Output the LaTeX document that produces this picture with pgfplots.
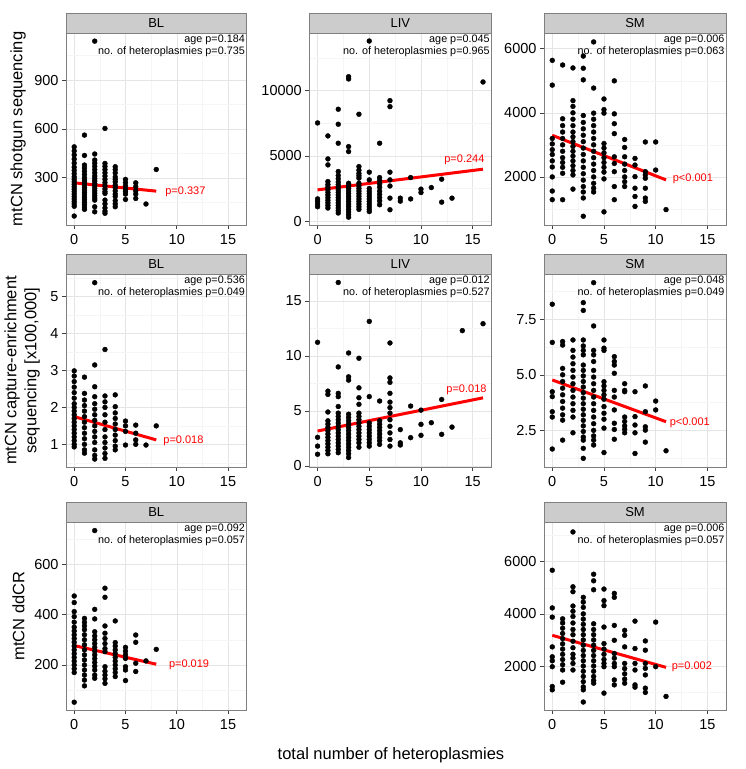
\documentclass[border=0pt]{standalone}
\usepackage{fontspec}
\setmainfont{Liberation Sans}
\usepackage{pgfplots}
\pgfplotsset{compat=1.18}
\definecolor{stripfill}{RGB}{204,204,204}
\definecolor{panelborder}{RGB}{127,127,127}
\definecolor{gmaj}{RGB}{229,229,229}
\definecolor{gmin}{RGB}{245,245,245}
\pgfplotsset{
 panel/.style={
  scale only axis, xmin=-0.8, xmax=16.8,
  xtick={0,5,10,15}, minor xtick={2.5,7.5,12.5},
  grid=both, major grid style={color=gmaj, line width=0.5pt}, minor grid style={color=gmin, line width=0.5pt},
  axis line style={panelborder, line width=0.6pt},
  tick align=outside, tick pos=left,
  major tick length=4pt, minor tick length=0pt,
  major tick style={black!75, line width=0.6pt},
  tick label style={font=\fontsize{14.5}{14.5}\selectfont, black},
  xticklabel style={yshift=-1.5pt},
  scaled y ticks=false,
  /pgf/number format/assume math mode=true,
  /pgf/number format/set thousands separator={},
 },
 dots/.style={only marks, mark=*, mark size=2.45pt, mark options={draw=black, fill=black}},
 fit/.style={red, line width=3pt, no marks},
}
\newcommand{\annot}[2]{\node[anchor=north east, align=right, inner sep=1.5pt, font=\fontsize{10.8}{12.6}\selectfont] at (rel axis cs:1,1) {age p=#1\\no. of heteroplasmies p=#2};}
\newcommand{\pval}[3]{\node[red, font=\fontsize{11}{13}\selectfont] at (axis cs:#1,#2) {#3};}
\newcommand{\strip}[2]{\draw[panelborder, line width=0.6pt, fill=stripfill] (#1.north west) rectangle ([yshift=20pt]#1.north east); \node[font=\fontsize{13}{13}\selectfont] at ([yshift=10pt]#1.north) {#2};}
\begin{document}
\begin{tikzpicture}
\path[use as bounding box] (0,0) rectangle (746pt,-769pt);
% ---------- Row 1 ----------
\begin{axis}[panel, name=p11, at={(66pt,-33pt)}, anchor=north west, width=180.5pt, height=192pt,
  ymin=10, ymax=1189, ytick={300,600,900}, minor ytick={150,450,750,1050}]
\addplot[dots] coordinates {
(0,490)(0,465)(0,440)(0,415)(0,390)(0,365)(0,345)(0,325)(0,305)(0,290)(0,275)(0,260)(0,245)(0,230)(0,215)(0,200)(0,185)(0,170)(0,155)(0,140)(0,125)(0,65)
(1,562)(1,437)(1,378)(1,360)(1,340)(1,320)(1,300)(1,285)(1,270)(1,255)(1,240)(1,225)(1,210)(1,195)(1,180)(1,165)(1,150)(1,135)(1,120)(1,106)
(2,1139)(2,446)(2,409)(2,390)(2,370)(2,350)(2,330)(2,310)(2,295)(2,280)(2,265)(2,250)(2,235)(2,220)(2,205)(2,190)(2,175)(2,163)(2,122)(2,91)
(3,603)(3,388)(3,370)(3,350)(3,330)(3,310)(3,290)(3,270)(3,250)(3,232)(3,215)(3,204)(3,163)(3,140)(3,115)(3,95)(3,82)
(4,368)(4,350)(4,330)(4,305)(4,290)(4,275)(4,255)(4,240)(4,220)(4,200)(4,185)(4,160)(4,140)(4,122)
(5,290)(5,270)(5,250)(5,230)(5,215)(5,200)(5,167)
(6,269)(6,245)(6,220)(6,200)(6,173)
(7,139)(8,351)};
\addplot[fit] coordinates {(0,269)(8,218)};
\pval{10.84}{214}{p=0.337}
\annot{0.184}{0.735}
\end{axis}
\strip{p11}{BL}

\begin{axis}[panel, name=p12, at={(309.3pt,-33pt)}, anchor=north west, width=182pt, height=192pt,
  ymin=-300, ymax=14420, ytick={0,5000,10000}, minor ytick={2500,7500,12500}]
\addplot[dots] coordinates {
(0,7526)(0,1700)(0,1500)(0,1300)(0,1100)
(1,6530)(1,4768)(1,4309)(1,3030)(1,2800)(1,2600)(1,2400)(1,2200)(1,2000)(1,1800)(1,1600)(1,1400)(1,1200)(1,1000)
(2,8575)(2,7426)(2,5970)(2,3800)(2,3500)(2,3250)(2,3000)(2,2800)(2,2600)(2,2400)(2,2200)(2,2000)(2,1800)(2,1600)(2,1400)(2,1200)(2,1000)(2,800)(2,620)
(3,11072)(3,10896)(3,5711)(3,5328)(3,2900)(3,2700)(3,2500)(3,2300)(3,2100)(3,1900)(3,1700)(3,1500)(3,1300)(3,1100)(3,900)(3,700)(3,500)(3,300)
(4,8192)(4,4178)(4,3900)(4,3650)(4,3470)(4,3290)(4,2900)(4,2700)(4,2500)(4,2300)(4,2100)(4,1900)(4,1700)(4,1500)(4,1300)(4,1100)(4,900)
(5,13806)(5,3750)(5,3160)(5,2500)(5,2300)(5,2100)(5,1900)(5,1700)(5,1500)(5,1300)(5,1100)(5,900)(5,730)
(6,5970)(6,3336)(6,3100)(6,2850)(6,2600)(6,2300)(6,2050)(6,1800)(6,1550)(6,1250)
(7,9234)(7,8775)(7,3750)(7,3160)(7,2690)(7,1760)(7,870)
(8,1760)(8,1530)(9,3336)(9,1700)(10,2450)(10,2190)(11,2570)(12,3213)(12,1452)(13,1758)(16,10666)};
\addplot[fit] coordinates {(0,2394)(16,3980)};
\pval{14.2}{4700}{p=0.244}
\annot{0.045}{0.965}
\end{axis}
\strip{p12}{LIV}

\begin{axis}[panel, name=p13, at={(544pt,-33pt)}, anchor=north west, width=182pt, height=192pt,
  ymin=500, ymax=6490, ytick={2000,4000,6000}, minor ytick={1000,3000,5000}]
\addplot[dots] coordinates {
(0,5637)(0,4864)(0,3200)(0,3030)(0,2850)(0,2700)(0,2500)(0,2310)(0,2000)(0,1560)(0,1290)
(1,5492)(1,3814)(1,3600)(1,3400)(1,3200)(1,3000)(1,2800)(1,2600)(1,2450)(1,2300)(1,2114)(1,1289)
(2,5400)(2,4380)(2,4200)(2,4000)(2,3800)(2,3600)(2,3400)(2,3250)(2,3100)(2,2950)(2,2800)(2,2650)(2,2500)(2,2350)(2,2200)(2,2062)(2,1620)
(3,5770)(3,5390)(3,5028)(3,3916)(3,3700)(3,3500)(3,3300)(3,3100)(3,2900)(3,2700)(3,2500)(3,2300)(3,2100)(3,1900)(3,1700)(3,1530)(3,1342)(3,773)
(4,6212)(4,4772)(4,3990)(4,3800)(4,3600)(4,3400)(4,3200)(4,3000)(4,2800)(4,2600)(4,2400)(4,2200)(4,2000)(4,1800)(4,1650)(4,1530)
(5,4432)(5,4100)(5,3990)(5,3041)(5,2900)(5,2750)(5,2600)(5,2450)(5,2300)(5,2150)(5,1938)(5,909)
(6,4997)(6,3968)(6,3660)(6,3350)(6,2627)(6,2420)(6,2164)(6,1700)(6,1289)
(7,3168)(7,2920)(7,2628)(7,2400)(7,2200)(7,2000)(7,1850)(7,1700)
(8,2577)(8,2370)(8,2010)(8,1648)(8,1390)(8,1080)
(9,3090)(9,2164)(9,2060)(9,1958)(9,1648)(9,1340)(9,1236)
(10,3090)(10,2215)(11,980)};
\addplot[fit] coordinates {(0,3298)(11,1907)};
\pval{13.6}{1938}{p<0.001}
\annot{0.006}{0.063}
\end{axis}
\strip{p13}{SM}

% ---------- Row 2 ----------
\begin{axis}[panel, name=p21, at={(66pt,-274pt)}, anchor=north west, width=180.5pt, height=193pt,
  ymin=0.385, ymax=5.615, ytick={1,2,3,4,5}, minor ytick={0.5,1.5,2.5,3.5,4.5,5.5}]
\addplot[dots] coordinates {
(0,2.99)(0,2.85)(0,2.7)(0,2.55)(0,2.4)(0,2.25)(0,2.1)(0,2.0)(0,1.9)(0,1.8)(0,1.7)(0,1.6)(0,1.5)(0,1.4)(0,1.3)(0,1.2)(0,1.1)(0,1.0)(0,0.93)
(1,2.82)(1,2.38)(1,2.2)(1,2.05)(1,1.9)(1,1.75)(1,1.6)(1,1.45)(1,1.3)(1,1.15)(1,1.0)(1,0.85)(1,0.76)
(2,5.38)(2,3.15)(2,2.56)(2,2.29)(2,2.1)(2,1.95)(2,1.8)(2,1.65)(2,1.5)(2,1.35)(2,1.2)(2,1.05)(2,0.85)(2,0.7)(2,0.6)
(3,3.57)(3,2.31)(3,2.15)(3,2.0)(3,1.8)(3,1.6)(3,1.4)(3,1.2)(3,1.05)(3,0.9)(3,0.75)(3,0.62)
(4,2.34)(4,2.02)(4,1.85)(4,1.7)(4,1.55)(4,1.4)(4,1.25)(4,1.1)(4,0.95)(4,0.85)
(5,1.63)(5,1.5)(5,1.35)(5,0.98)
(6,1.52)(6,1.3)(6,1.12)(6,1.0)
(7,0.98)(8,1.5)};
\addplot[fit] coordinates {(0,1.75)(8,1.12)};
\pval{10.65}{1.09}{p=0.018}
\annot{0.536}{0.049}
\end{axis}
\strip{p21}{BL}

\begin{axis}[panel, name=p22, at={(309.3pt,-274pt)}, anchor=north west, width=182pt, height=193pt,
  ymin=-0.1, ymax=17.45, ytick={0,5,10,15}, minor ytick={2.5,7.5,12.5}]
\addplot[dots] coordinates {
(0,11.24)(0,2.6)(0,1.8)(0,1.06)
(1,6.8)(1,6.5)(1,4.9)(1,4.1)(1,3.8)(1,3.5)(1,3.2)(1,2.9)(1,2.6)(1,2.3)(1,2.0)(1,1.7)(1,1.4)(1,1.1)
(2,16.68)(2,9.0)(2,6.6)(2,6.3)(2,5.4)(2,4.8)(2,4.5)(2,4.2)(2,3.9)(2,3.6)(2,3.3)(2,3.0)(2,2.7)(2,2.4)(2,2.1)(2,1.8)(2,1.5)(2,1.2)
(3,10.27)(3,8.1)(3,7.8)(3,4.7)(3,4.4)(3,4.1)(3,3.8)(3,3.5)(3,3.2)(3,2.9)(3,2.6)(3,2.3)(3,2.0)(3,1.7)(3,1.4)(3,1.1)(3,0.76)
(4,9.79)(4,7.1)(4,6.2)(4,5.6)(4,4.8)(4,4.5)(4,4.2)(4,3.9)(4,3.6)(4,3.3)(4,3.0)(4,2.7)(4,2.4)(4,2.1)(4,1.7)
(5,13.14)(5,6.3)(5,3.9)(5,3.6)(5,3.3)(5,3.0)(5,2.7)(5,2.4)(5,2.1)(5,1.8)
(6,5.9)(6,4.1)(6,3.8)(6,3.5)(6,3.2)(6,2.9)(6,2.6)(6,2.3)(6,1.96)
(7,11.18)(7,8.0)(7,7.6)(7,6.6)(7,5.8)(7,5.3)(7,4.8)(7,4.2)(7,3.6)(7,3.0)(7,2.4)(7,1.8)
(8,3.3)(8,2.1)(8,1.9)(9,5.44)(9,2.57)(10,5.07)(10,3.78)(10,2.78)(11,3.93)(12,6.04)(12,2.87)(13,3.53)(14,12.3)(16,12.93)};
\addplot[fit] coordinates {(0,3.17)(16,6.19)};
\pval{14.4}{6.95}{p=0.018}
\annot{0.012}{0.527}
\end{axis}
\strip{p22}{LIV}

\begin{axis}[panel, name=p23, at={(544pt,-274pt)}, anchor=north west, width=182pt, height=193pt,
  ymin=0.85, ymax=9.54, ytick={2.5,5,7.5}, minor ytick={1.25,3.75,6.25,8.75},
  yticklabel style={/pgf/number format/fixed, /pgf/number format/fixed zerofill, /pgf/number format/precision=1}]
\addplot[dots] coordinates {
(0,8.18)(0,6.46)(0,4.24)(0,4.02)(0,3.34)(0,3.1)(0,1.66)
(1,6.5)(1,6.34)(1,5.29)(1,5.0)(1,4.7)(1,4.4)(1,4.1)(1,3.8)(1,3.5)(1,3.2)(1,2.96)(1,2.06)
(2,6.57)(2,6.1)(2,5.8)(2,5.5)(2,5.2)(2,4.9)(2,4.6)(2,4.3)(2,4.0)(2,3.7)(2,3.4)(2,3.1)(2,2.39)
(3,8.25)(3,7.9)(3,6.57)(3,6.3)(3,6.1)(3,5.9)(3,5.44)(3,5.2)(3,4.95)(3,4.7)(3,4.45)(3,4.2)(3,3.95)(3,3.7)(3,3.45)(3,3.2)(3,2.95)(3,2.7)(3,2.45)(3,2.2)(3,2.06)(3,1.69)(3,1.24)
(4,9.15)(4,7.2)(4,6.1)(4,5.9)(4,5.6)(4,5.2)(4,4.9)(4,4.6)(4,4.3)(4,4.0)(4,3.7)(4,3.4)(4,3.1)(4,2.8)(4,2.5)(4,2.25)(4,2.06)(4,1.84)
(5,6.57)(5,6.2)(5,6.1)(5,4.69)(5,4.5)(5,4.3)(5,4.1)(5,3.9)(5,3.57)(5,3.27)(5,3.0)(5,2.6)(5,1.5)
(6,5.82)(6,5.6)(6,5.44)(6,5.07)(6,4.3)(6,4.0)(6,3.42)(6,2.82)(6,2.54)(6,2.1)
(7,4.6)(7,4.3)(7,4.24)(7,3.1)(7,2.9)(7,2.7)(7,2.55)(7,2.39)
(8,4.24)(8,3.12)(8,2.74)(8,2.39)(8,1.46)
(9,4.5)(9,3.34)(9,2.66)(9,2.51)(9,1.97)
(10,3.82)(10,3.42)(11,1.58)};
\addplot[fit] coordinates {(0,4.77)(11,2.89)};
\pval{13.3}{2.85}{p<0.001}
\annot{0.048}{0.049}
\end{axis}
\strip{p23}{SM}

% ---------- Row 3 ----------
\begin{axis}[panel, name=p31, at={(66pt,-522pt)}, anchor=north west, width=180.5pt, height=188pt,
  ymin=21, ymax=768, ytick={200,400,600}, minor ytick={100,300,500,700}]
\addplot[dots] coordinates {
(0,474)(0,448)(0,412)(0,392)(0,370)(0,350)(0,335)(0,320)(0,305)(0,290)(0,275)(0,260)(0,245)(0,230)(0,215)(0,200)(0,185)(0,170)(0,52)
(1,385)(1,370)(1,355)(1,340)(1,320)(1,300)(1,280)(1,260)(1,240)(1,220)(1,200)(1,180)(1,160)(1,140)(1,117)
(2,734)(2,421)(2,383)(2,332)(2,315)(2,300)(2,285)(2,270)(2,255)(2,240)(2,225)(2,210)(2,195)(2,180)(2,160)(2,147)
(3,505)(3,469)(3,355)(3,326)(3,305)(3,285)(3,265)(3,253)(3,193)(3,175)(3,160)(3,145)(3,127)
(4,375)(4,289)(4,275)(4,260)(4,245)(4,230)(4,215)(4,200)(4,185)(4,170)(4,154)
(5,270)(5,255)(5,240)(5,226)(5,193)(5,180)(5,138)
(6,319)(6,290)(6,207)(6,174)
(7,216)(8,262)};
\addplot[fit] coordinates {(0,277)(8,203)};
\pval{11.2}{200}{p=0.019}
\annot{0.092}{0.057}
\end{axis}
\strip{p31}{BL}

\begin{axis}[panel, name=p33, at={(544pt,-522pt)}, anchor=north west, width=182pt, height=188pt,
  ymin=314, ymax=7521, ytick={2000,4000,6000}, minor ytick={1000,3000,5000,7000}]
\addplot[dots] coordinates {
(0,5671)(0,4228)(0,3874)(0,2734)(0,2354)(0,2200)(0,1975)(0,1215)(0,1088)
(1,3810)(1,3650)(1,3450)(1,3250)(1,3050)(1,2850)(1,2650)(1,2450)(1,2250)(1,2050)(1,1848)(1,1380)
(2,7140)(2,5038)(2,4850)(2,4300)(2,4100)(2,3900)(2,3650)(2,3400)(2,3200)(2,2950)(2,2700)(2,2450)(2,2300)(2,2100)(2,1848)
(3,4633)(3,4450)(3,4250)(3,4000)(3,3800)(3,3600)(3,3400)(3,3200)(3,3000)(3,2800)(3,2600)(3,2400)(3,2200)(3,2000)(3,1800)(3,1600)(3,1400)(3,1200)(3,1088)(3,620)
(4,5519)(4,5266)(4,4924)(4,3620)(4,3400)(4,3200)(4,3000)(4,2800)(4,2600)(4,2400)(4,2200)(4,2000)(4,1800)(4,1600)(4,1450)(4,1342)
(5,4950)(5,4506)(5,4316)(5,3494)(5,2860)(5,2650)(5,2450)(5,2250)(5,2100)(5,1975)(5,962)
(6,4785)(6,4633)(6,3557)(6,2987)(6,2481)(6,2300)(6,2100)(6,1975)(6,1468)(6,1278)
(7,3367)(7,3177)(7,2734)(7,2100)(7,1900)(7,1700)(7,1500)(7,1342)
(8,3722)(8,2671)(8,2100)(8,1848)(8,1278)(8,1190)
(9,2962)(9,2607)(9,2100)(9,1911)(9,1658)(9,1152)(9,987)
(10,3684)(10,1975)(11,835)};
\addplot[fit] coordinates {(0,3177)(11,1949)};
\pval{13.5}{1975}{p=0.002}
\annot{0.006}{0.057}
\end{axis}
\strip{p33}{SM}

% ---------- axis titles ----------
\node[rotate=90, font=\fontsize{16.5}{20}\selectfont] at (18pt,-129pt) {mtCN shotgun sequencing};
\node[rotate=90, align=center, font=\fontsize{16.5}{20}\selectfont] at (22pt,-370.5pt) {mtCN capture-enrichment\\sequencing [x100,000]};
\node[rotate=90, font=\fontsize{16.5}{20}\selectfont] at (18.5pt,-616pt) {mtCN ddCR};
\node[font=\fontsize{16.5}{20}\selectfont] at (391pt,-755pt) {total number of heteroplasmies};
\end{tikzpicture}
\end{document}
